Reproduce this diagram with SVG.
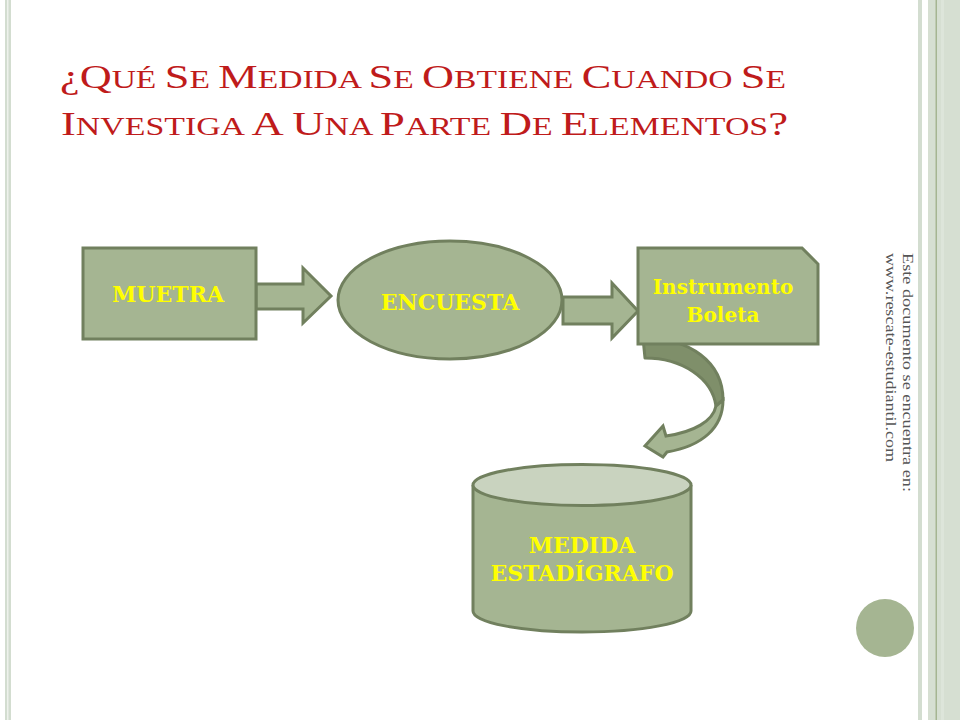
<svg xmlns="http://www.w3.org/2000/svg" width="960" height="720" viewBox="0 0 960 720">
  <defs>
    <style>
      .shape { fill: #a5b592; stroke: #71805e; stroke-width: 3; stroke-linejoin: miter; }
      .lbl { font-family: "DejaVu Serif", "Liberation Serif", serif; font-weight: bold; font-size: 22px; fill: #ffff00; text-anchor: middle; }
      .title { font-family: "Liberation Serif", "DejaVu Serif", serif; fill: #bf1b1b; }
      .big { font-size: 33px; }
      .sm { font-size: 25px; }
      .side { font-family: "Liberation Serif", "DejaVu Serif", serif; font-size: 14px; fill: #555555; }
    </style>
  </defs>

  <rect x="0" y="0" width="960" height="720" fill="#ffffff"/>

  <!-- frame decoration -->
  <g id="frame">
    <rect x="5" y="0" width="6" height="720" fill="#d3ddd0"/>
    <rect x="7" y="0" width="1.5" height="720" fill="#eef2ec"/>
    <rect x="918" y="0" width="4" height="720" fill="#d3ddd0"/>
    <rect x="928" y="0" width="32" height="720" fill="#d6dfd2"/>
    <rect x="935.5" y="0" width="1.5" height="720" fill="#a5b592"/>
    <rect x="941" y="0" width="3" height="720" fill="#dde5da"/>
    <circle cx="885" cy="628" r="29" fill="#a5b592"/>
  </g>

  <!-- title -->
  <g id="title">
    <text class="title" x="60" y="88" textLength="726" lengthAdjust="spacingAndGlyphs"><tspan class="big">¿Q</tspan><tspan class="sm">UÉ </tspan><tspan class="big">S</tspan><tspan class="sm">E </tspan><tspan class="big">M</tspan><tspan class="sm">EDIDA </tspan><tspan class="big">S</tspan><tspan class="sm">E </tspan><tspan class="big">O</tspan><tspan class="sm">BTIENE </tspan><tspan class="big">C</tspan><tspan class="sm">UANDO </tspan><tspan class="big">S</tspan><tspan class="sm">E</tspan></text>
    <text class="title" x="61" y="135" textLength="727" lengthAdjust="spacingAndGlyphs"><tspan class="big">I</tspan><tspan class="sm">NVESTIGA </tspan><tspan class="big">A</tspan><tspan class="sm"> </tspan><tspan class="big">U</tspan><tspan class="sm">NA </tspan><tspan class="big">P</tspan><tspan class="sm">ARTE </tspan><tspan class="big">D</tspan><tspan class="sm">E </tspan><tspan class="big">E</tspan><tspan class="sm">LEMENTOS</tspan><tspan class="big">?</tspan></text>
  </g>

  <!-- side note -->
  <g id="side-note">
    <text class="side" transform="translate(903,253) rotate(90)" textLength="239" lengthAdjust="spacingAndGlyphs">Este documento se encuentra en:</text>
    <text class="side" transform="translate(886,253) rotate(90)" textLength="209" lengthAdjust="spacingAndGlyphs">www.rescate-estudiantil.com</text>
  </g>

  <!-- connectors -->
  <g id="connectors">
    <path class="shape" d="M256,284 L303,284 L303,268 L331,296 L303,323 L303,309 L256,309 Z"/>
    <path class="shape" d="M563,297 L612,297 L612,283 L638,311 L612,338 L612,324 L563,324 Z"/>
    <path d="M643,338 C690,338 723,362 723,400 L716,406 C712,378 682,358 645,358 Z" fill="#7f8f6a" stroke="#71805e" stroke-width="3" stroke-linejoin="round"/>
    <path d="M723,400 C723,428 702,446 667,452 L663,457 L645,446 L663,426 L666,436 C694,432 713,421 716,406 Z" fill="#a5b592" stroke="#71805e" stroke-width="3" stroke-linejoin="miter"/>
  </g>

  <!-- nodes -->
  <g id="node-muetra">
    <rect class="shape" x="83" y="248" width="173" height="91"/>
    <text class="lbl" x="168" y="302">MUETRA</text>
  </g>

  <g id="node-encuesta">
    <ellipse class="shape" cx="450" cy="300" rx="112" ry="59"/>
    <text class="lbl" x="450" y="310">ENCUESTA</text>
  </g>

  <g id="node-instrumento">
    <path class="shape" d="M638,248 L802,248 L818,264 L818,344 L638,344 Z"/>
    <text class="lbl" x="723" y="294" style="font-size:20px">Instrumento</text>
    <text class="lbl" x="723" y="322" style="font-size:20px">Boleta</text>
  </g>

  <g id="node-medida">
    <path class="shape" d="M473,485 L473,611 A109,21 0 0 0 691,611 L691,485"/>
    <ellipse cx="582" cy="485" rx="109" ry="20.5" fill="#c9d3bf" stroke="#71805e" stroke-width="3"/>
    <text class="lbl" x="582" y="553">MEDIDA</text>
    <text class="lbl" x="582" y="581">ESTADÍGRAFO</text>
  </g>
</svg>
